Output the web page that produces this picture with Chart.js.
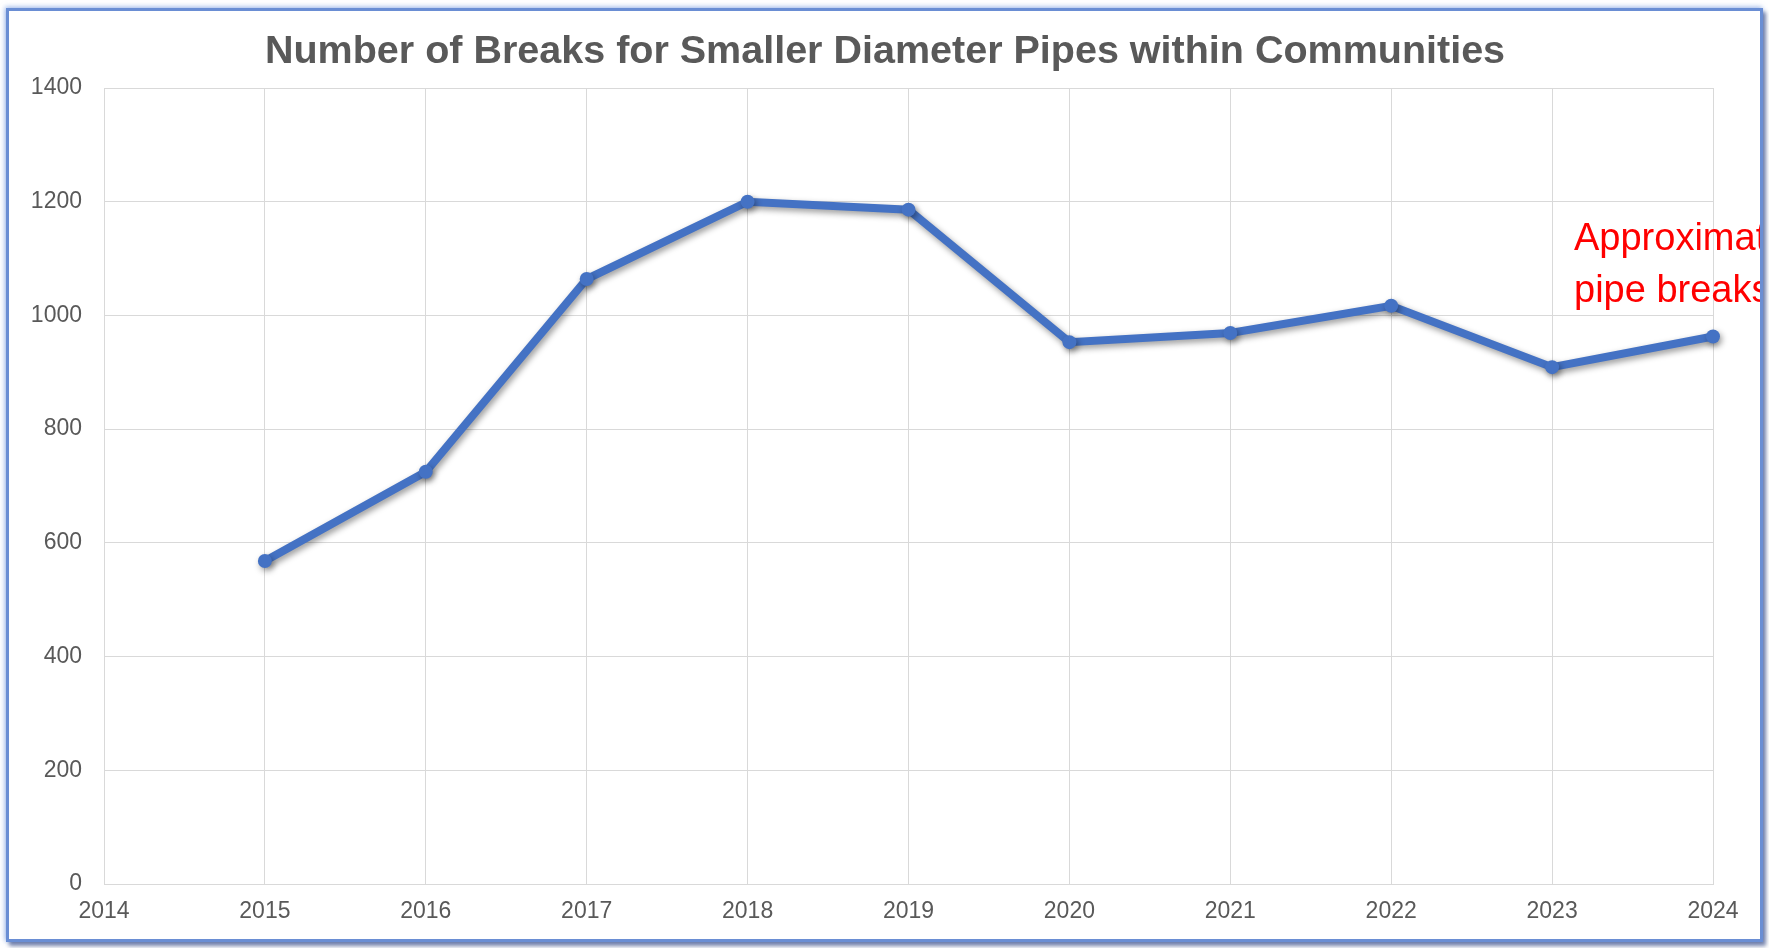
<!DOCTYPE html>
<html>
<head>
<meta charset="utf-8">
<script src="https://cdn.jsdelivr.net/npm/chart.js@4"></script>
<style>
    html, body { margin: 0; padding: 0; background: #fff; overflow: hidden; }
    #chart { position: absolute; left: 0; top: 0; }
    #frame {
        position: absolute; left: 6px; top: 8px; width: 1751px; height: 928px;
        border: 3px solid #6a8ed4;
        box-shadow: 3px 4px 4px rgba(50, 70, 130, 0.65), -1px -1px 5px rgba(110, 150, 225, 0.7);
        pointer-events: none;
    }
</style>
</head>
<body>
<canvas id="chart" width="1769" height="948"></canvas>
<div id="frame"></div>
<script>
// Dados
const anos = [2015, 2016, 2017, 2018, 2019, 2020, 2021, 2022, 2023, 2024];
const rupturas = [568, 725, 1064, 1200, 1186, 953, 969, 1017, 909, 963];
const titulo = 'Number of Breaks for Smaller Diameter Pipes within Communities';
const notaLinhas = ['Approximately', 'pipe breaks per year'];

const FONTE = '"Liberation Sans", Arial, sans-serif';
const CINZA = '#595959';

// Sombra na linha
const sombraPlugin = {
    id: 'sombra',
    beforeDatasetsDraw(chart) {
        const ctx = chart.ctx;
        ctx.save();
        ctx.shadowColor = 'rgba(0, 0, 0, 0.4)';
        ctx.shadowBlur = 6;
        ctx.shadowOffsetX = 2;
        ctx.shadowOffsetY = 3;
    },
    afterDatasetsDraw(chart) {
        chart.ctx.restore();
    }
};

// Título e nota em vermelho
const textosPlugin = {
    id: 'textos',
    afterDraw(chart) {
        const ctx = chart.ctx;
        ctx.save();
        ctx.font = 'bold 39.5px ' + FONTE;
        ctx.fillStyle = CINZA;
        ctx.textAlign = 'center';
        ctx.textBaseline = 'middle';
        ctx.fillText(titulo, 885, 52);

        // nota cortada pela moldura
        ctx.beginPath();
        ctx.rect(0, 0, 1762, 948);
        ctx.clip();
        ctx.font = '38px ' + FONTE;
        ctx.fillStyle = '#ff0000';
        ctx.textAlign = 'left';
        ctx.textBaseline = 'alphabetic';
        notaLinhas.forEach((l, i) => ctx.fillText(l, 1574, 250 + i * 52));
        ctx.restore();
    }
};

const ctx = document.getElementById('chart').getContext('2d');
new Chart(ctx, {
    type: 'line',
    data: {
        datasets: [{
            data: anos.map((a, i) => ({ x: a, y: rupturas[i] })),
            borderColor: '#4472C4',
            backgroundColor: '#4472C4',
            borderWidth: 8,
            pointRadius: 7,
            pointBackgroundColor: '#4472C4',
            pointBorderWidth: 0,
            tension: 0,
            clip: false
        }]
    },
    options: {
        responsive: false,
        animation: false,
        layout: { padding: { left: 0, right: 56, top: 88, bottom: 0 } },
        plugins: {
            legend: { display: false },
            title: { display: false },
            tooltip: { enabled: false }
        },
        scales: {
            x: {
                type: 'linear',
                min: 2014,
                max: 2024,
                afterFit: (s) => { s.height = 64; },
                grid: { color: '#d9d9d9', lineWidth: 1, drawTicks: false },
                border: { color: '#d9d9d9', width: 1 },
                ticks: {
                    stepSize: 1,
                    padding: 14,
                    color: CINZA,
                    font: { family: FONTE, size: 23 },
                    callback: (v) => String(v)
                }
            },
            y: {
                min: 0,
                max: 1400,
                afterFit: (s) => { s.width = 104; },
                grid: { color: '#d9d9d9', lineWidth: 1, drawTicks: false },
                border: { color: '#d9d9d9', width: 1 },
                ticks: {
                    stepSize: 200,
                    padding: 22,
                    color: CINZA,
                    font: { family: FONTE, size: 23 },
                    callback: (v) => String(v)
                }
            }
        }
    },
    plugins: [sombraPlugin, textosPlugin]
});
</script>
</body>
</html>
